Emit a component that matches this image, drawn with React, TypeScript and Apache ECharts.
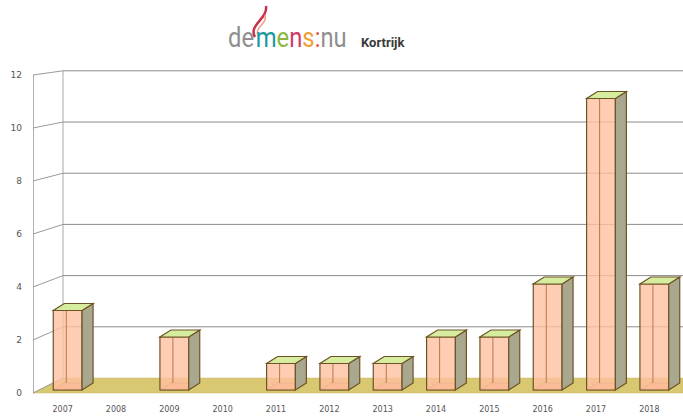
import React, { useEffect, useRef } from 'react';
import * as echarts from 'echarts';

const years = ['2007', '2008', '2009', '2010', '2011', '2012', '2013', '2014', '2015', '2016', '2017', '2018'];
const counts = [3, 0, 2, 0, 1, 1, 1, 2, 2, 4, 11, 4];
const yTicks = [0, 2, 4, 6, 8, 10, 12];

export default function App() {
  const ref = useRef<HTMLDivElement>(null);
  useEffect(() => {
    const chart = echarts.init(ref.current!, null, { renderer: 'svg' });
    const axisOffset = 8;
    const wallDepthX = 30;
    const floorRise = 15;
    const backScale = 25.6 / 26.5;
    const barDX = 11;
    const barDY = -7;
    const barLift = 3;

    const backY = (api: any, v: number) => {
      const y0 = api.coord([0, 0])[1];
      const y = api.coord([0, v])[1];
      return y0 - floorRise - (y0 - y) * backScale;
    };

    const wallsRender = (params: any, api: any) => {
      const band = api.size([1, 0])[0];
      const c0 = api.coord([0, 0]);
      const frontX = c0[0] - band / 2 - axisOffset;
      const backX = frontX + wallDepthX;
      const W = api.getWidth();
      const y0 = c0[1];
      const y0b = backY(api, 0);
      const children: any[] = [
        {
          type: 'polygon',
          shape: { points: [[frontX, y0], [W, y0], [W, y0b], [backX, y0b]] },
          style: { fill: '#d9c872', stroke: '#cbb860', lineWidth: 0.5 },
        },
        {
          type: 'line',
          shape: { x1: backX, y1: backY(api, yTicks[yTicks.length - 1]), x2: backX, y2: y0b },
          style: { stroke: '#a8a8a8', lineWidth: 1 },
        },
      ];
      yTicks.forEach((v) => {
        const yf = api.coord([0, v])[1];
        const yb = backY(api, v);
        children.push({
          type: 'line',
          shape: { x1: frontX, y1: yf, x2: backX, y2: yb },
          style: { stroke: '#9a9a9a', lineWidth: 1 },
        });
        if (v > 0) {
          children.push({
            type: 'line',
            shape: { x1: backX, y1: yb, x2: W, y2: yb },
            style: { stroke: '#8c8c8c', lineWidth: 1 },
          });
        }
      });
      return { type: 'group', children };
    };

    const barsRender = (params: any, api: any) => {
      const v = api.value(1);
      if (!v) return null;
      const band = api.size([1, 0])[0];
      const half = band * 0.27;
      const top = api.coord([api.value(0), v]);
      const base = api.coord([api.value(0), 0]);
      const fl = top[0] - half;
      const fr = top[0] + half;
      const ft = top[1] - barLift;
      const fb = base[1] - barLift;
      const edge = '#6e5424';
      return {
        type: 'group',
        children: [
          {
            type: 'polygon',
            shape: { points: [[fl, fb], [fr, fb], [fr + barDX, fb + barDY], [fl + barDX, fb + barDY]] },
            style: { fill: '#f3a878', stroke: '#9a6a30', lineWidth: 0.8 },
          },
          {
            type: 'rect',
            shape: { x: fl, y: ft, width: fr - fl, height: fb - ft },
            style: { fill: 'rgba(255,192,160,0.8)', stroke: edge, lineWidth: 1.2 },
          },
          {
            type: 'line',
            shape: { x1: fl + barDX + 2, y1: ft + barDY, x2: fl + barDX + 2, y2: fb + barDY },
            style: { stroke: '#b87848', lineWidth: 1 },
          },
          {
            type: 'polygon',
            shape: { points: [[fr, ft], [fr + barDX, ft + barDY], [fr + barDX, fb + barDY], [fr, fb]] },
            style: { fill: '#a9a78e', stroke: edge, lineWidth: 1.2 },
          },
          {
            type: 'polygon',
            shape: { points: [[fl, ft], [fr, ft], [fr + barDX, ft + barDY], [fl + barDX, ft + barDY]] },
            style: { fill: '#d6eda0', stroke: edge, lineWidth: 1.2 },
          },
        ],
      };
    };

    const logoFont = 28;
    chart.setOption({
      animation: false,
      backgroundColor: '#ffffff',
      grid: { left: 41, right: 2, top: 75, bottom: 23 },
      xAxis: {
        type: 'category',
        data: years,
        axisLine: { show: false },
        axisTick: { show: false },
        axisLabel: {
          color: '#555',
          fontSize: 8,
          fontFamily: 'DejaVu Sans',
          margin: 12,
          padding: [0, 10, 0, 0],
        },
        splitLine: { show: false },
      },
      yAxis: {
        type: 'value',
        min: 0,
        max: 12,
        interval: 2,
        offset: axisOffset,
        axisLine: { show: true, lineStyle: { color: '#b0b0b0', width: 1 } },
        axisTick: { show: false },
        axisLabel: { color: '#555', fontSize: 9, fontFamily: 'DejaVu Sans', margin: 11 },
        splitLine: { show: false },
      },
      series: [
        { type: 'custom', z: 1, silent: true, renderItem: wallsRender, data: [[0, 0]] },
        {
          type: 'custom',
          z: 2,
          renderItem: barsRender,
          encode: { x: 0, y: 1 },
          data: counts.map((v, i) => [i, v]),
        },
      ],
      graphic: [
        {
          type: 'bezierCurve',
          shape: { x1: 255, y1: 37, x2: 266, y2: 6, cpx1: 248, cpy1: 25, cpx2: 268, cpy2: 19 },
          style: { stroke: '#c8324a', lineWidth: 2.5, fill: null },
        },
        {
          type: 'bezierCurve',
          shape: { x1: 258, y1: 36, x2: 265, y2: 15, cpx1: 254, cpy1: 27, cpx2: 268, cpy2: 24 },
          style: { stroke: '#f2a08a', lineWidth: 1.5, fill: null },
        },
        {
          type: 'text',
          x: 228,
          y: 51,
          scaleX: 0.85,
          style: {
            text: '{g|de}{sp| }{t|m}{gr|e}{r|n}{o|s}{rr|:}{g|nu}',
            textVerticalAlign: 'bottom',
            rich: {
              g: { fontSize: logoFont, fontFamily: 'Roboto', fill: '#8f8f8f' },
              sp: { fontSize: 8, fontFamily: 'Roboto', fill: '#8f8f8f' },
              t: { fontSize: logoFont, fontFamily: 'Roboto', fill: '#1c97a0' },
              gr: { fontSize: logoFont, fontFamily: 'Roboto', fill: '#8bb83c' },
              r: { fontSize: logoFont, fontFamily: 'Roboto', fill: '#d23a6a' },
              o: { fontSize: logoFont, fontFamily: 'Roboto', fill: '#f0a030' },
              rr: { fontSize: logoFont, fontFamily: 'Roboto', fill: '#e0503a' },
            },
          },
        },
        {
          type: 'text',
          x: 361,
          y: 49,
          style: {
            text: 'Kortrijk',
            fontSize: 13,
            fontWeight: 'bold',
            fontFamily: 'Roboto',
            fill: '#3a3a3a',
            textVerticalAlign: 'bottom',
          },
        },
      ],
    });
    return () => chart.dispose();
  }, []);
  return <div ref={ref} style={{ position: 'fixed', left: 0, top: 0, width: 683, height: 416 }} />;
}
